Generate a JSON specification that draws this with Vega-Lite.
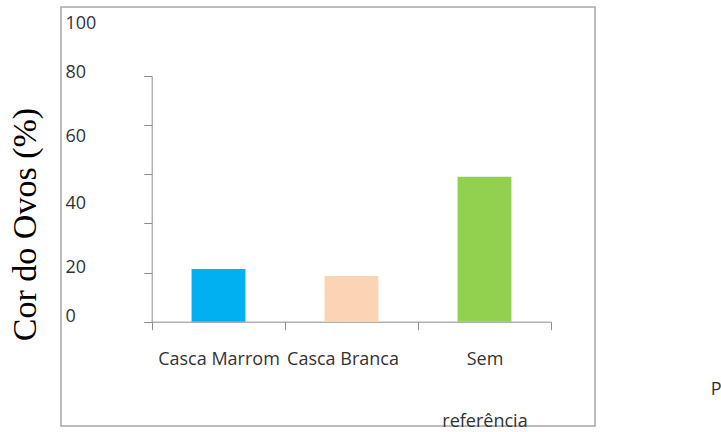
{
  "$schema": "https://vega.github.io/schema/vega-lite/v6.json",
  "autosize": {"type": "none"},
  "padding": {"left": 61, "top": 7, "right": 126, "bottom": 6},
  "width": 534,
  "height": 419,
  "background": "white",
  "title": {
    "text": "P",
    "orient": "right",
    "anchor": "middle",
    "angle": 0,
    "align": "left",
    "baseline": "middle",
    "offset": 105,
    "dy": 173,
    "font": "Open Sans",
    "fontSize": 18,
    "fontWeight": "normal",
    "color": "#333333"
  },
  "data": {
    "values": [
      {"casca": "Casca Marrom", "percentual": 21.4},
      {"casca": "Casca Branca", "percentual": 18.6},
      {"casca": "Sem referência", "percentual": 59.0}
    ]
  },
  "mark": {"type": "bar", "width": {"band": 0.405}},
  "encoding": {
    "x": {
      "field": "casca",
      "type": "nominal",
      "sort": null,
      "scale": {"range": [91, 490], "paddingInner": 0, "paddingOuter": 0},
      "axis": {
        "title": null,
        "orient": "bottom",
        "offset": -104.3,
        "tickBand": "extent",
        "tickSize": 8,
        "tickColor": "#8c8c8c",
        "domainColor": "#8c8c8c",
        "labelAngle": 0,
        "labelFont": "Open Sans",
        "labelFontSize": 18,
        "labelColor": "#333333",
        "labelBaseline": "top",
        "labelPadding": 20.5,
        "labelLineHeight": 62,
        "labelOverlap": false,
        "labelExpr": "datum.value == 'Sem referência' ? ['Sem', 'referência'] : datum.label",
        "labelOffset": {"expr": "datum.value == 'Casca Branca' ? -9 : 0"}
      }
    },
    "y": {
      "field": "percentual",
      "type": "quantitative",
      "title": "Cor do Ovos (%)",
      "scale": {"domain": [0, 100], "range": [314.7, 69], "nice": false},
      "axis": {
        "orient": "left",
        "offset": -90.7,
        "values": [0, 20, 40, 60, 80, 100],
        "grid": false,
        "tickSize": 8,
        "tickColor": "#8c8c8c",
        "domainColor": "#8c8c8c",
        "labelFont": "Open Sans",
        "labelFontSize": 18,
        "labelColor": "#333333",
        "labelAlign": "left",
        "labelBaseline": "middle",
        "labelPadding": 78.7,
        "labelOverlap": false,
        "labelFlush": false,
        "labelOffset": {"expr": "datum.value == 100 ? -53 : datum.value == 80 ? -52.6 : datum.value == 60 ? -37.8 : datum.value == 40 ? -20.4 : datum.value == 20 ? -4.6 : -5.2"},
        "titleFont": "Liberation Serif",
        "titleFontSize": 34,
        "titleFontWeight": "normal",
        "titleColor": "#000000",
        "titleAngle": -90,
        "titleAlign": "center",
        "titleBaseline": "alphabetic",
        "titleX": -116.7,
        "titleY": 217
      }
    },
    "color": {
      "field": "casca",
      "type": "nominal",
      "scale": {
        "domain": ["Casca Marrom", "Casca Branca", "Sem referência"],
        "range": ["#00B0F0", "#FAD4B4", "#92D050"]
      },
      "legend": null
    }
  },
  "config": {
    "view": {"stroke": "#a6a6a6", "strokeWidth": 1.5}
  }
}
